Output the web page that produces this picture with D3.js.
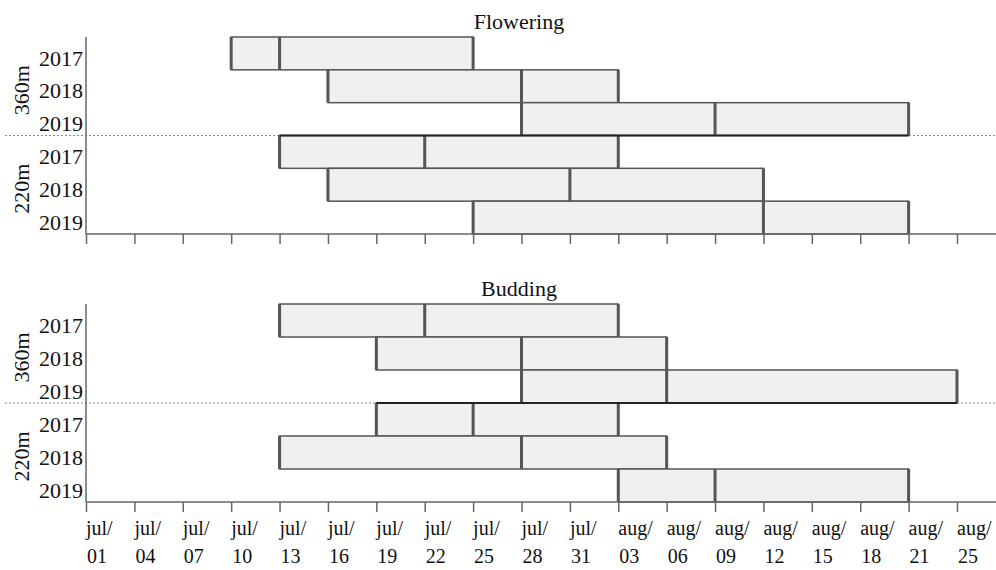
<!DOCTYPE html>
<html>
<head>
<meta charset="utf-8">
<script src="https://cdn.jsdelivr.net/npm/d3@7"></script>
<style>
  body { margin: 0; background: #fff; }
  svg { display: block; font-family: "Liberation Serif", "Times New Roman", serif; }
</style>
</head>
<body>
<svg id="chart" width="996" height="570"></svg>
<script>
// === data ===
const dateLabels = ["jul/01","jul/04","jul/07","jul/10","jul/13","jul/16","jul/19","jul/22","jul/25","jul/28","jul/31",
  "aug/03","aug/06","aug/09","aug/12","aug/15","aug/18","aug/21","aug/25"];
const altitudes = ["360m", "220m"];
const years = ["2017", "2018", "2019"];

// start / peak / end per row (360m 2017..2019, then 220m 2017..2019)
const floweringStart = ["jul/10","jul/16","jul/28","jul/13","jul/16","jul/25"];
const floweringPeak  = ["jul/13","jul/28","aug/09","jul/22","jul/31","aug/12"];
const floweringEnd   = ["jul/25","aug/03","aug/21","aug/03","aug/12","aug/21"];

const buddingStart = ["jul/13","jul/19","jul/28","jul/19","jul/13","aug/03"];
const buddingPeak  = ["jul/22","jul/28","aug/06","jul/25","jul/28","aug/09"];
const buddingEnd   = ["aug/03","aug/06","aug/25","aug/03","aug/06","aug/21"];

const svg = d3.select("#chart");
const width = +svg.attr("width");

const x = d3.scalePoint().domain(dateLabels).range([86, 957]);

function rowsFrom(start, peak, end) {
  const rows = [];
  altitudes.forEach((alt, a) => {
    years.forEach((yr, j) => {
      const i = a * 3 + j;
      rows.push({ key: alt + "-" + yr, alt, yr, start: start[i], peak: peak[i], end: end[i] });
    });
  });
  return rows;
}

function renderPanel(top, bottom, title, rows, showLabels) {
  const g = svg.append("g");
  const y = d3.scaleBand().domain(rows.map(d => d.key)).range([top, bottom]);

  // bars
  g.selectAll("rect.bar")
    .data(rows)
    .enter()
    .append("rect")
    .attr("class", "bar")
    .attr("x", d => x(d.start))
    .attr("y", d => y(d.key))
    .attr("width", d => x(d.end) - x(d.start))
    .attr("height", y.bandwidth())
    .attr("fill", "#f0f0f0")
    .attr("stroke", "#555")
    .attr("stroke-width", 1.5);

  // vertical edges: start, peak, end
  rows.forEach(d => {
    [d.start, d.peak, d.end].forEach(v => {
      g.append("line")
        .attr("x1", x(v)).attr("x2", x(v))
        .attr("y1", y(d.key)).attr("y2", y(d.key) + y.bandwidth())
        .attr("stroke", "#555")
        .attr("stroke-width", 3);
    });
  });

  // separator between altitudes
  const sepY = y(rows[3].key);
  g.append("line")
    .attr("x1", 5).attr("x2", width)
    .attr("y1", sepY).attr("y2", sepY)
    .attr("stroke", "#888")
    .attr("stroke-width", 1)
    .attr("stroke-dasharray", "2,2");
  const r1 = rows[2], r2 = rows[3];
  g.append("line")
    .attr("x1", Math.min(x(r1.start), x(r2.start)))
    .attr("x2", Math.max(x(r1.end), x(r2.end)))
    .attr("y1", sepY).attr("y2", sepY)
    .attr("stroke", "#222")
    .attr("stroke-width", 2);

  // y axis line
  g.append("line")
    .attr("x1", 86).attr("x2", 86)
    .attr("y1", top).attr("y2", bottom)
    .attr("stroke", "#666")
    .attr("stroke-width", 1.5);

  // year labels
  g.selectAll("text.year")
    .data(rows)
    .enter()
    .append("text")
    .attr("class", "year")
    .attr("x", 83)
    .attr("y", d => y(d.key) + y.bandwidth() / 2)
    .attr("dy", "0.55em")
    .attr("text-anchor", "end")
    .attr("font-size", "22px")
    .attr("fill", "#111")
    .text(d => d.yr);

  // altitude labels
  altitudes.forEach((alt, a) => {
    const cy = (y(rows[a * 3].key) + y(rows[a * 3 + 2].key) + y.bandwidth()) / 2;
    g.append("text")
      .attr("transform", `translate(29, ${cy + 4}) rotate(-90)`)
      .attr("text-anchor", "middle")
      .attr("font-size", "22px")
      .attr("fill", "#111")
      .text(alt);
  });

  // x axis
  const axis = g.append("g")
    .attr("transform", `translate(0, ${bottom})`)
    .call(d3.axisBottom(x).tickSize(10).tickFormat(""));
  axis.select(".domain").remove();
  axis.selectAll(".tick line").attr("stroke", "#666").attr("stroke-width", 1.5);
  g.append("line")
    .attr("x1", 86).attr("x2", width)
    .attr("y1", bottom).attr("y2", bottom)
    .attr("stroke", "#666")
    .attr("stroke-width", 1.5);

  if (showLabels) {
    const lbl = g.selectAll("text.date")
      .data(dateLabels)
      .enter()
      .append("text")
      .attr("class", "date")
      .attr("x", d => x(d))
      .attr("y", bottom + 33)
      .attr("font-size", "20px")
      .attr("fill", "#111");
    lbl.append("tspan").text(d => d.split("/")[0] + "/");
    lbl.append("tspan").attr("x", d => x(d) + 1).attr("dy", 28).text(d => d.split("/")[1]);
  }

  // title
  g.append("text")
    .attr("x", 519)
    .attr("y", top - 8)
    .attr("text-anchor", "middle")
    .attr("font-size", "22px")
    .attr("fill", "#111")
    .text(title);
}

renderPanel(37, 234, "Flowering", rowsFrom(floweringStart, floweringPeak, floweringEnd), false);
renderPanel(304, 502, "Budding", rowsFrom(buddingStart, buddingPeak, buddingEnd), true);
</script>
</body>
</html>
